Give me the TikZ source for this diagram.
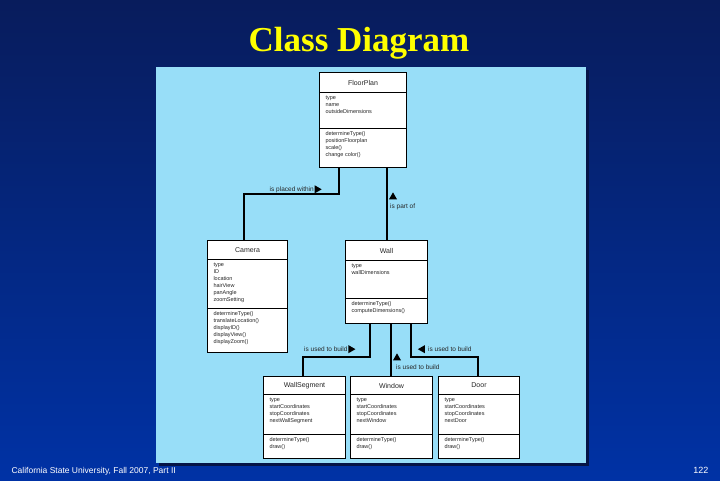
\documentclass[tikz,border=0pt]{standalone}
\usepackage{fontspec}
\setmainfont{Liberation Serif}
\newfontfamily\umlsans{Liberation Sans}
\usetikzlibrary{shapes.multipart,shapes.geometric,positioning}

\definecolor{slidetop}{RGB}{8,28,92}
\definecolor{slidebot}{RGB}{0,50,165}
\definecolor{panelblue}{RGB}{152,222,248}
\definecolor{panelshadow}{RGB}{5,20,70}
\definecolor{titleyellow}{RGB}{255,255,0}

% compartments of a class box: width, height, text
\newcommand{\ctitle}[3]{\parbox[c][#2][c]{#1}{\centering\fontsize{7}{8}\selectfont #3}}
\newcommand{\cbody}[3]{\parbox[t][#2][t]{#1}{\vspace{3pt}\leftskip=6pt\relax #3}}

\tikzset{
  umlclass/.style={rectangle split, rectangle split parts=3, draw=black, line width=1pt,
    fill=white, inner sep=0pt, anchor=north west, text=black!85,
    font=\umlsans\fontsize{5.5}{7}\selectfont},
  conn/.style={draw=black, line width=1.1pt},
  lbl/.style={font=\umlsans\fontsize{6.5}{7}\selectfont, inner sep=0pt, text=black!85},
  tri/.style={isosceles triangle, isosceles triangle apex angle=60, isosceles triangle stretches,
    fill=black, inner sep=0pt, minimum width=8pt, minimum height=7pt}
}

\begin{document}
\begin{tikzpicture}[x=1pt,y=-1pt]
\useasboundingbox (0,0) rectangle (720,480);
\shade[top color=slidetop, bottom color=slidebot] (0,0) rectangle (720,480);

\node[anchor=base, text=titleyellow, font=\bfseries\fontsize{35}{40}\selectfont] (title) at (359,51) {Class Diagram};

% panel
\fill[panelshadow] (159,70) rectangle (589,466);
\fill[panelblue] (156,67) rectangle (586,463);

% classes
\node[umlclass] (floorplan) at (319,72) {\ctitle{87pt}{19pt}{FloorPlan}\nodepart{two}\cbody{87pt}{35pt}{type\\name\\outsideDimensions}\nodepart{three}\cbody{87pt}{38pt}{determineType()\\positionFloorplan\\scale()\\change color()}};

\node[umlclass] (camera) at (207,240) {\ctitle{80pt}{18pt}{Camera}\nodepart{two}\cbody{80pt}{48pt}{type\\ID\\location\\hairView\\panAngle\\zoomSetting}\nodepart{three}\cbody{80pt}{43pt}{determineType()\\translateLocation()\\displayID()\\displayView()\\displayZoom()}};

\node[umlclass] (wall) at (345,240) {\ctitle{82pt}{19pt}{Wall}\nodepart{two}\cbody{82pt}{37pt}{type\\wallDimensions}\nodepart{three}\cbody{82pt}{24pt}{determineType()\\computeDimensions()}};

\node[umlclass] (wallseg) at (263,376) {\ctitle{82pt}{17pt}{WallSegment}\nodepart{two}\cbody{82pt}{39pt}{type\\startCoordinates\\stopCoordinates\\nextWallSegment}\nodepart{three}\cbody{82pt}{23pt}{determineType()\\draw()}};

\node[umlclass] (window) at (350,376) {\ctitle{82pt}{17pt}{Window}\nodepart{two}\cbody{82pt}{39pt}{type\\startCoordinates\\stopCoordinates\\nextWindow}\nodepart{three}\cbody{82pt}{23pt}{determineType()\\draw()}};

\node[umlclass] (door) at (438,376) {\ctitle{81pt}{17pt}{Door}\nodepart{two}\cbody{81pt}{39pt}{type\\startCoordinates\\stopCoordinates\\nextDoor}\nodepart{three}\cbody{81pt}{23pt}{determineType()\\draw()}};

% connectors
\draw[conn] ([xshift=20pt]floorplan.south west) -- ++(0,26) -| ([xshift=37pt]camera.north west);
\draw[conn] ([xshift=68pt]floorplan.south west) -- ([xshift=42pt]wall.north west);
\draw[conn] ([xshift=25pt]wall.south west) -- ++(0,33) -| ([xshift=40pt]wallseg.north west);
\draw[conn] ([xshift=46pt]wall.south west) -- ([xshift=41pt]window.north west);
\draw[conn] ([xshift=66pt]wall.south west) -- ++(0,33) -| ([xshift=40pt]door.north west);

% association labels
\node[lbl, anchor=base east] (lplaced) at (314,191) {is placed within};
\node[tri, shape border rotate=0, right=0.5pt of lplaced] (aplaced) {};
\node[lbl, anchor=base west] (lpart) at (390,208.5) {is part of};
\node[tri, shape border rotate=90] (apart) at (393,197) {};
\node[lbl, anchor=base west] (lseg) at (304,351.5) {is used to build};
\node[tri, shape border rotate=0, right=0.5pt of lseg] (aseg) {};
\node[lbl, anchor=base west] (lwin) at (396,369.5) {is used to build};
\node[tri, shape border rotate=90] (awin) at (397,358) {};
\node[lbl, anchor=base west] (ldoor) at (428,351.5) {is used to build};
\node[tri, shape border rotate=180, left=3pt of ldoor] (adoor) {};

% footer
\node[anchor=base west, text=white, font=\umlsans\fontsize{8.5}{10}\selectfont] (footer) at (8,473) {California State University, Fall 2007, Part II};
\node[anchor=base east, text=white, font=\umlsans\fontsize{9}{10}\selectfont] (pagenum) at (712,473) {122};
\end{tikzpicture}
\end{document}
